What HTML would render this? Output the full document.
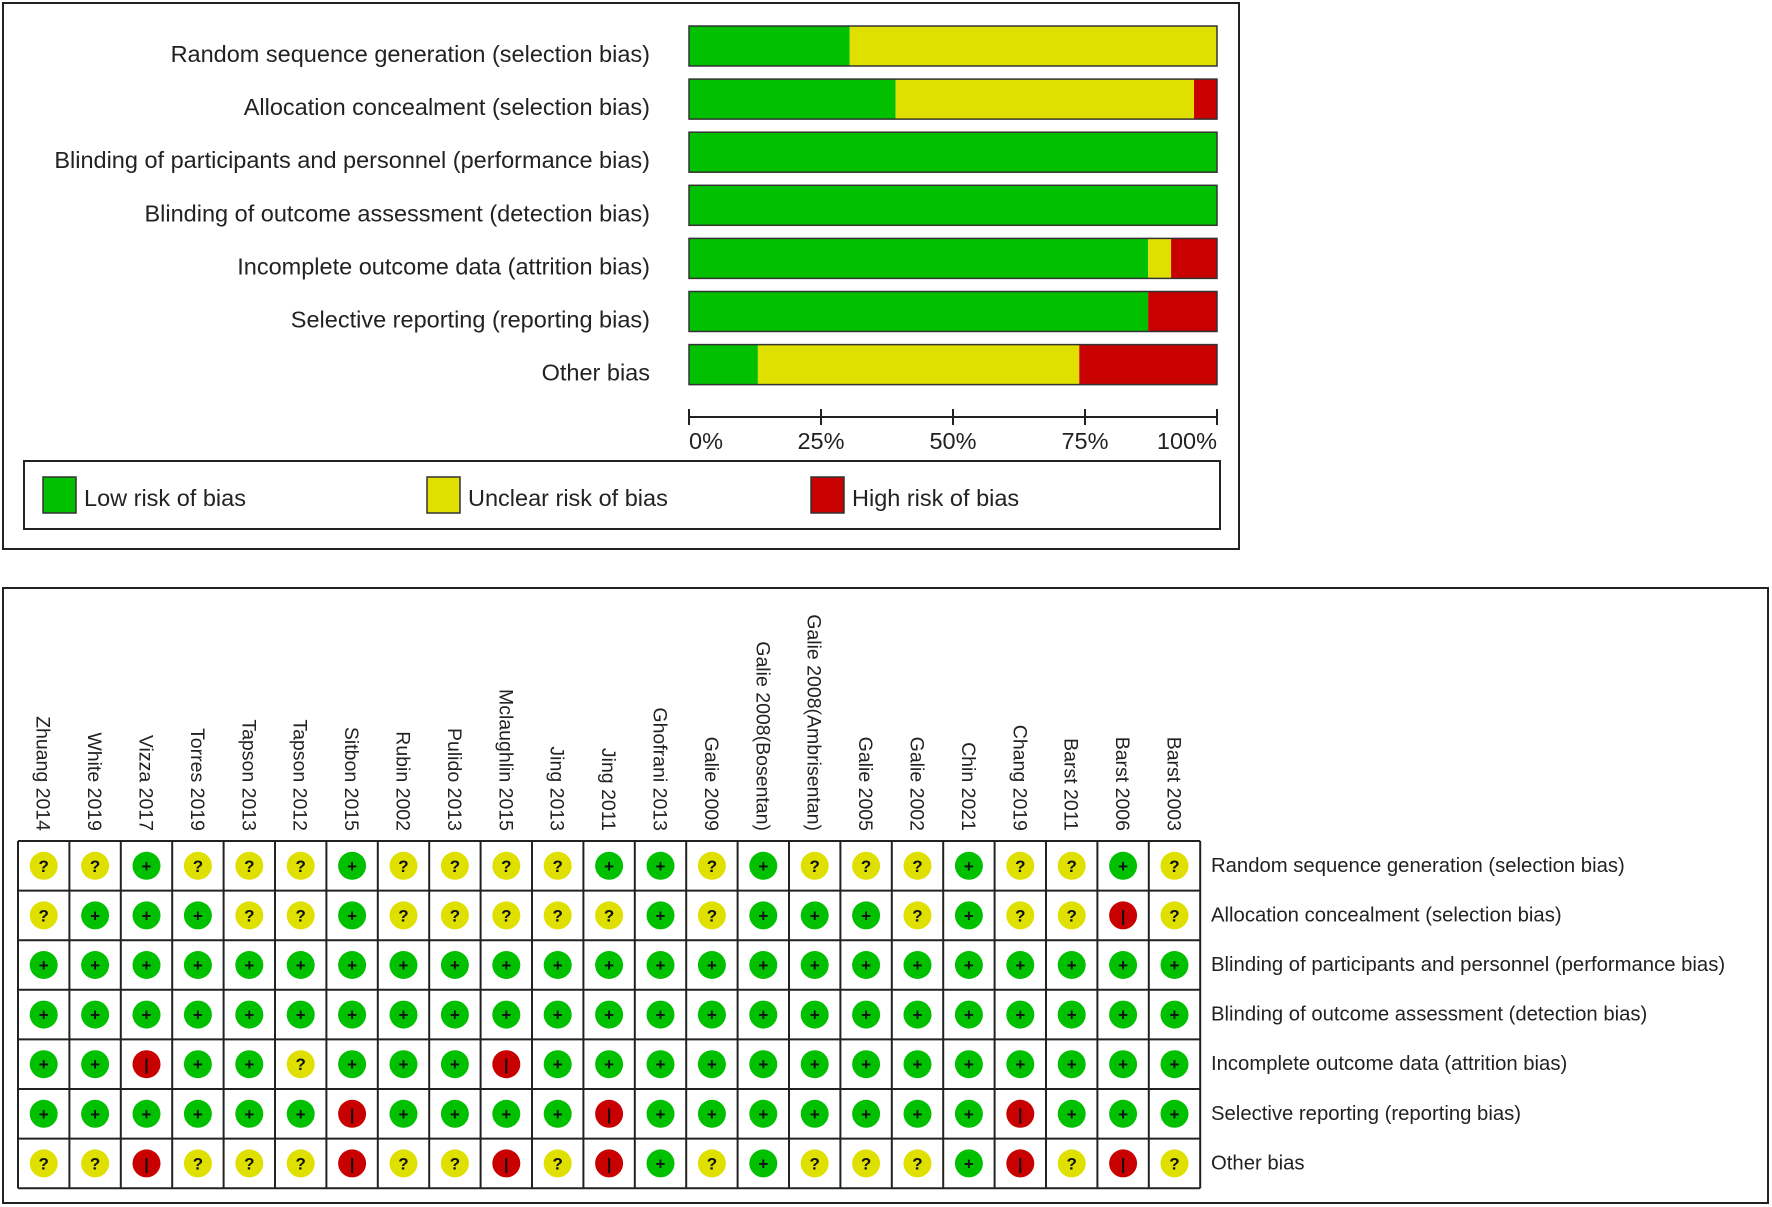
<!DOCTYPE html>
<html><head><meta charset="utf-8"><style>
html,body{margin:0;padding:0;background:#fff}
svg{display:block;font-family:"Liberation Sans",Arial,sans-serif}
</style></head><body>
<svg id="chart" width="1772" height="1207" viewBox="0 0 1772 1207" xmlns="http://www.w3.org/2000/svg">
<rect x="3" y="3" width="1236" height="546" fill="none" stroke="#222" stroke-width="2"/>
<rect x="3" y="588" width="1765" height="615" fill="none" stroke="#222" stroke-width="2"/>
<g id="bars"></g><g id="grid"></g>
</svg>
<script>
const domains = ["Random sequence generation (selection bias)","Allocation concealment (selection bias)","Blinding of participants and personnel (performance bias)","Blinding of outcome assessment (detection bias)","Incomplete outcome data (attrition bias)","Selective reporting (reporting bias)","Other bias"];
const studies = ["Zhuang 2014","White 2019","Vizza 2017","Torres 2019","Tapson 2013","Tapson 2012","Sitbon 2015","Rubin 2002","Pulido 2013","Mclaughlin 2015","Jing 2013","Jing 2011","Ghofrani 2013","Galie 2009","Galie 2008(Bosentan)","Galie 2008(Ambrisentan)","Galie 2005","Galie 2002","Chin 2021","Chang 2019","Barst 2011","Barst 2006","Barst 2003"];
// judgments per domain (one char per study): + low, ? unclear, - high
const rowRandom    = "??+???+????++?+???+??+?";
const rowAlloc     = "?+++??+?????+?+++?+??-?";
const rowPerf      = "+++++++++++++++++++++++";
const rowDetect    = "+++++++++++++++++++++++";
const rowAttrition = "++-++?+++-+++++++++++++";
const rowReporting = "++++++-++++-+++++++-+++";
const rowOther     = "??-???-??-?-+?+???+-?-?";
const judgments = [rowRandom,rowAlloc,rowPerf,rowDetect,rowAttrition,rowReporting,rowOther];
const tickLabels = ["0%","25%","50%","75%","100%"];
const tickValues = [0,25,50,75,100];

const NS="http://www.w3.org/2000/svg";
const GREEN="#00c000",YEL="#e0e000",RED="#c80000";
function mk(tag,attrs,parent){const e=document.createElementNS(NS,tag);for(const k in attrs)e.setAttribute(k,attrs[k]);parent.appendChild(e);return e;}

// ---- summary bar chart ----
const bars=document.getElementById('bars');
const X0=689,X1=1217;
const xScale=p=>X0+(X1-X0)*p/100;
const rowY=i=>26+i*53.1;
domains.forEach((d,i)=>{
  const j=judgments[i].split('');
  const n=j.length;
  const low=j.filter(c=>c==='+').length/n*100;
  const unc=j.filter(c=>c==='?').length/n*100;
  const high=j.filter(c=>c==='-').length/n*100;
  const y=rowY(i);
  const t=mk('text',{x:650,y:y+36,'text-anchor':'end','font-size':23.5,fill:'#222'},bars);
  t.textContent=d;
  
  
  const segs=[[0,low,GREEN,'low'],[low,low+unc,YEL,'unclear'],[low+unc,low+unc+high,RED,'high']];
  segs.forEach(s=>{
    if(s[1]-s[0]<=0)return;
    const r=mk('rect',{x:xScale(s[0]),y:y,width:xScale(s[1])-xScale(s[0]),height:40,fill:s[2]},bars);
    
    
  });
  const o=mk('rect',{x:X0,y:y,width:X1-X0,height:40,fill:'none',stroke:'#333','stroke-width':1.5},bars);
  
  
});
const ax=mk('line',{x1:X0,x2:X1,y1:417,y2:417,stroke:'#222','stroke-width':2},bars);


tickValues.forEach((v,k)=>{
  const x=xScale(v);
  const tk=mk('line',{x1:x,x2:x,y1:409,y2:425,stroke:'#222','stroke-width':2},bars);
  
  
  const anchor=k===0?'start':(k===tickValues.length-1?'end':'middle');
  const tl=mk('text',{x:x,y:449,'text-anchor':anchor,'font-size':23.5,fill:'#222'},bars);
  tl.textContent=tickLabels[k];
  
  
});
const lg=mk('rect',{x:24,y:461,width:1196,height:68,fill:'none',stroke:'#222','stroke-width':2},bars);


[[43,GREEN,'Low risk of bias'],[427,YEL,'Unclear risk of bias'],[811,RED,'High risk of bias']].forEach(l=>{
  const s=mk('rect',{x:l[0],y:477,width:33,height:36,fill:l[1],stroke:'#333','stroke-width':1.5},bars);
  
  
  const t=mk('text',{x:l[0]+41,y:506,'font-size':23.5,fill:'#222'},bars);
  t.textContent=l[2];
  
  
});

// ---- traffic-light grid ----
const grid=document.getElementById('grid');
const GX=18,GY=841,CW=51.4,RH=49.6;
studies.forEach((s,c)=>{
  const cx=GX+CW*(c+0.5);
  const t=mk('text',{x:0,y:0,'text-anchor':'end','font-size':19.5,fill:'#222',transform:`translate(${cx-7},831) rotate(90)`},grid);
  t.textContent=s;
  
  
});
domains.forEach((d,r)=>{
  const cy=GY+RH*(r+0.5);
  const t=mk('text',{x:1211,y:cy+6,'font-size':20.3,fill:'#222'},grid);
  t.textContent=d;
  
  
  judgments[r].split('').forEach((j,c)=>{
    const cx=GX+CW*(c+0.5);
    const col=j==='+'?GREEN:(j==='?'?YEL:RED);
    const ci=mk('circle',{cx:cx,cy:cy,r:14,fill:col},grid);
    
    
    const sym=mk('text',{x:cx,y:cy+6,'text-anchor':'middle','font-size':j==='-'?16:17,'font-weight':'bold',fill:'#111'},grid);
    sym.textContent=j==='+'?'+':(j==='?'?'?':'|');
    
    
  });
});
for(let c=0;c<=studies.length;c++){
  const x=GX+CW*c;
  const l=mk('line',{x1:x,x2:x,y1:GY,y2:GY+RH*7,stroke:'#222','stroke-width':2},grid);
  
  
}
for(let r=0;r<=domains.length;r++){
  const y=GY+RH*r;
  const l=mk('line',{x1:GX,x2:GX+CW*studies.length,y1:y,y2:y,stroke:'#222','stroke-width':2},grid);
  
  
}
</script>
</body></html>
